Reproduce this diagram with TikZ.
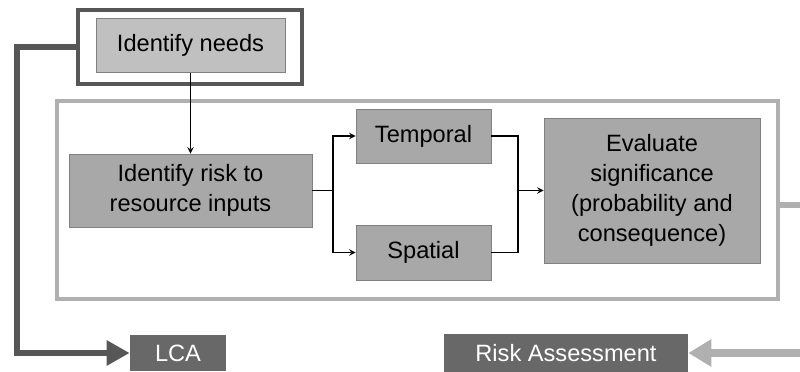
\documentclass[tikz,border=0pt]{standalone}
\usepackage{fontspec}
\setmainfont{Liberation Sans}
\usepackage{tikz}
\usetikzlibrary{arrows, arrows.meta, positioning, calc}
\definecolor{boxgray}{HTML}{A8A8A8}
\definecolor{lightbox}{HTML}{C0C0C0}
\definecolor{edgegray}{HTML}{808080}
\definecolor{darkgray}{HTML}{575757}
\definecolor{tabgray}{HTML}{686868}
\definecolor{framegray}{HTML}{B0B0B0}
\tikzstyle{process} = [rectangle, text centered, align=center, draw=edgegray, line width=0.6pt, fill=boxgray]
\tikzstyle{label} = [rectangle, text centered, fill=tabgray, text=white]
\tikzstyle{arrow} = [line width=1pt,->,>=stealth]
\tikzstyle{darkline} = [line width=4.3pt, draw=darkgray]
\tikzstyle{lightline} = [line width=4pt, draw=framegray]

\begin{document}
\begin{tikzpicture}[x=0.025cm, y=-0.025cm, font=\fontsize{16.8}{21.5}\selectfont]

			\useasboundingbox (0,0) rectangle (800,372);

			\node (frame) [rectangle, draw=darkgray, line width=3pt, minimum width=5.6cm, minimum height=1.85cm] at (190,47) {};
			\node (inner) [rectangle, draw=framegray, line width=3pt, minimum width=18.025cm, minimum height=4.95cm] at (417.5,200) {};

			\node (needs) [process, fill=lightbox, minimum width=4.725cm, minimum height=1.35cm] at (190.5,45.5) {Identify needs};

			\node (risk) [process, minimum width=6.075cm, minimum height=1.825cm] at (190.5,190.5) {Identify risk to\\ resource inputs};

			\node (temporal) [process, minimum width=3.375cm, minimum height=1.35cm] at (423.5,136) {Temporal};

			\node (spatial) [process, minimum width=3.375cm, minimum height=1.375cm] at (423.5,252.5) {Spatial};

			\node (evaluate) [process, minimum width=5.4cm, minimum height=3.625cm] at (652,190.5) {Evaluate\\ significance\\ (probability and\\ consequence)};

			\node (lca) [label, minimum width=2.4cm, minimum height=0.9cm] at (178,353) {LCA};

			\node (ra) [label, minimum width=6.1cm, minimum height=0.95cm] at (566,353) {Risk Assessment};

			\coordinate (lcorner) at (17,47);
			\coordinate (split) at (333,190.5);
			\coordinate (merge) at (518,190.5);
			\coordinate (rout) at (800,205);
			\coordinate (rin) at (800,353);

			\draw [arrow] (needs) -- (risk);
			\draw [arrow] (risk.east) -- (split) |- (temporal.west);
			\draw [arrow] (split) |- (spatial.west);
			\draw [line width=1pt] (temporal.east) -| (merge);
			\draw [line width=1pt] (spatial.east) -| (merge);
			\draw [arrow] (merge) -- (evaluate.west);

			\draw [darkline, -{Triangle[length=0.575cm, width=0.6cm]}] (frame.west) -- (lcorner) |- (lca.west);
			\draw [lightline] (rout -| inner.east) -- (rout);
			\draw [lightline, line width=5.5pt, -{Triangle[length=0.575cm, width=0.65cm]}] (rin) -- (ra.east);
\end{tikzpicture}
\end{document}
